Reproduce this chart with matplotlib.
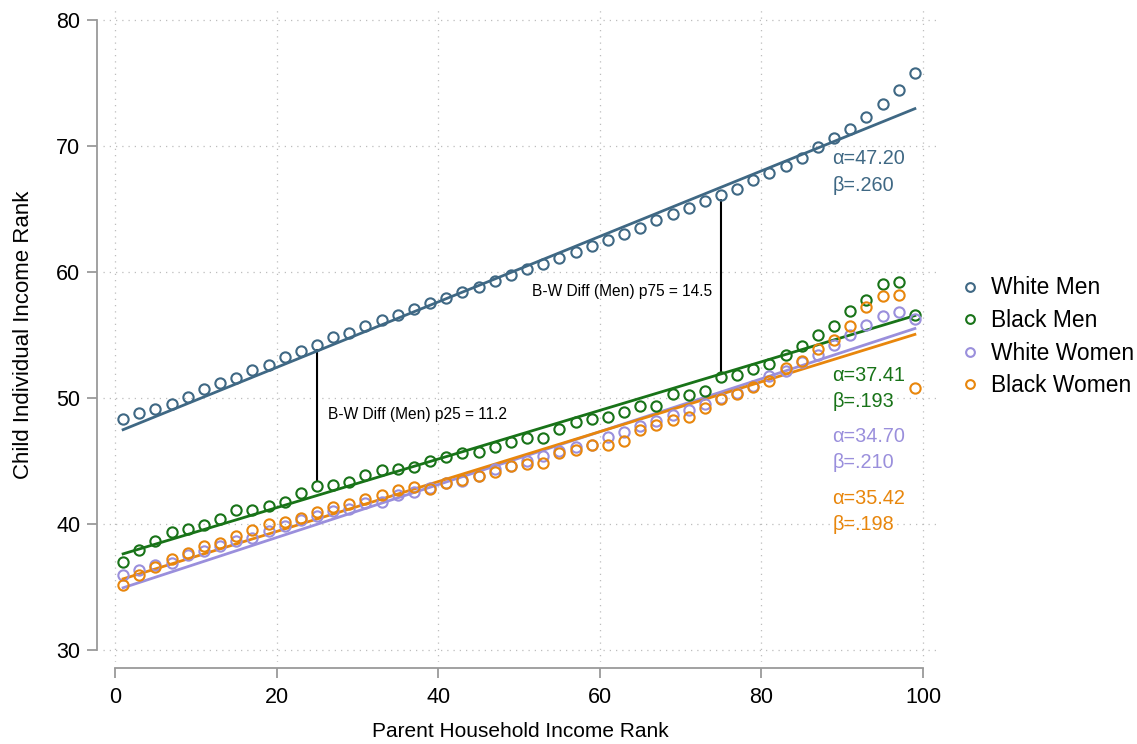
import numpy as np
import matplotlib
matplotlib.use("Agg")
import matplotlib.pyplot as plt

plt.rcParams['font.family'] = ['Liberation Sans', 'DejaVu Sans']

# parent rank bins (x) and mean child rank for each group
parent_rank = list(range(1, 100, 2))

white_men = [48.3, 48.8, 49.1, 49.5, 50.06, 50.7, 51.2, 51.6, 52.2, 52.6, 53.2, 53.7,
             54.2, 54.8, 55.1, 55.7, 56.2, 56.55, 57.0, 57.55, 57.9, 58.4, 58.8,
             59.3, 59.7, 60.2, 60.6, 61.1, 61.6, 62.05, 62.5, 63.0, 63.5, 64.1, 64.6,
             65.05, 65.6, 66.1, 66.6, 67.3, 67.85, 68.4, 69.0, 69.9, 70.6, 71.3, 72.3,
             73.3, 74.4, 75.8]
black_men = [36.94, 37.9, 38.65, 39.35, 39.6, 39.9, 40.4, 41.06, 41.1, 41.4,
             41.7, 42.45, 43.0, 43.1, 43.3, 43.9, 44.25, 44.3, 44.5, 45.0,
             45.3, 45.6, 45.7, 46.06, 46.5, 46.8, 46.77, 47.5, 48.04, 48.3,
             48.43, 48.87, 49.3, 49.3, 50.27, 50.19, 50.53, 51.66, 51.8, 52.3,
             52.7, 53.4, 54.1, 55.0, 55.7, 56.9, 57.76, 59.0, 59.2, 56.6]
white_women = [35.94, 36.3, 36.7, 36.9, 37.5, 37.8, 38.26, 38.6, 38.9, 39.4, 39.8, 40.3,
               40.62, 40.99, 41.2, 41.67, 41.72, 42.25, 42.5, 42.8, 43.25, 43.4, 43.8,
               44.35, 44.6, 45.0, 45.4, 45.8, 46.06, 46.25, 46.85, 47.25, 47.77, 48.16, 48.6,
               49.03, 49.48, 50.0, 50.4, 50.9, 51.7, 52.1, 52.8, 53.4, 54.2, 55.0, 55.8,
               56.5, 56.84, 56.24]
black_women = [35.1, 35.94, 36.55, 37.2, 37.7, 38.2, 38.5, 39.0, 39.5, 39.96, 40.15, 40.46,
               40.94, 41.33, 41.6, 41.96, 42.3, 42.67, 42.93, 42.78, 43.25, 43.5, 43.78,
               44.14, 44.6, 44.75, 44.83, 45.6, 45.85, 46.25, 46.25, 46.6, 47.4, 47.8, 48.2,
               48.5, 49.2, 49.87, 50.27, 50.87, 51.3, 52.37, 52.95, 53.87, 54.55, 55.65, 57.18,
               58.08, 58.15, 50.74]

group_names = ['White Men', 'Black Men', 'White Women', 'Black Women']
group_values = [white_men, black_men, white_women, black_women]
alphas = [47.20, 37.41, 34.70, 35.42]
betas = [0.260, 0.193, 0.210, 0.198]
alpha_labels = ['47.20', '37.41', '34.70', '35.42']
beta_labels = ['.260', '.193', '.210', '.198']
colors = ['#3f6884', '#187318', '#9a8fdc', '#e8860c']

# where the alpha/beta text sits (data coords)
coef_x = 88.8
coef_y = [68.95, 51.8, 46.95, 42.0]

# black-white gap annotations for men
gap_ranks = [25, 75]
gap_labels = ['B-W Diff (Men) p25 = 11.2', 'B-W Diff (Men) p75 = 14.5']
gap_text_pos = [(26.3, 48.7), (51.6, 58.4)]

fig = plt.figure(figsize=(11.37, 7.44), dpi=100)
ax = fig.add_axes([103 / 1137, 1 - 662 / 744, (938 - 103) / 1137, (662 - 8) / 744])

x = np.array(parent_rank)
ms = 7.4
for name, vals, a, b, col in zip(group_names, group_values, alphas, betas, colors):
    ax.plot(x, vals, 'o', ms=ms, mfc='none', mec=col, mew=1.5, label=name, zorder=3)
    ax.plot([x[0], x[-1]], [a + b * x[0], a + b * x[-1]], '-', color=col, lw=2.0, zorder=2)

for i, (name, col) in enumerate(zip(group_names, colors)):
    ax.text(coef_x, coef_y[i], '\u03b1=' + alpha_labels[i], color=col, fontsize=14.3,
            ha='left', va='center')
    ax.text(coef_x, coef_y[i] - 2.1, '\u03b2=' + beta_labels[i], color=col, fontsize=14.3,
            ha='left', va='center')

for r, lab, pos in zip(gap_ranks, gap_labels, gap_text_pos):
    k = parent_rank.index(r)
    ax.annotate('', xy=(r, white_men[k]), xytext=(r, black_men[k]),
                arrowprops=dict(arrowstyle='-', color='black', lw=1.5,
                                shrinkA=ms / 2, shrinkB=ms / 2), zorder=1)
    ax.text(pos[0], pos[1], lab, fontsize=11.2, ha='left', va='center')

ax.set_xlim(-1.49, 101.86)
ax.set_ylim(29.02, 80.93)
ax.set_xticks([0, 20, 40, 60, 80, 100])
ax.set_yticks([30, 40, 50, 60, 70, 80])
ax.tick_params(axis='both', labelsize=15.5, colors='#9a9a9a', labelcolor='black',
               length=7, width=1.3)
ax.tick_params(axis='x', pad=7)
ax.tick_params(axis='y', pad=5)

for s in ['top', 'right']:
    ax.spines[s].set_visible(False)
ax.spines['left'].set_position(('outward', 4.3))
ax.spines['bottom'].set_position(('outward', 4.3))
ax.spines['left'].set_bounds(30, 80)
ax.spines['bottom'].set_bounds(0, 100)
for s in ['left', 'bottom']:
    ax.spines[s].set_color('#9a9a9a')
    ax.spines[s].set_linewidth(1.3)

ax.grid(True, linestyle=(0, (1, 4)), color='#bdbdbd', lw=0.9)
ax.set_axisbelow(True)

ax.set_xlabel('Parent Household Income Rank', fontsize=15, labelpad=10)
ax.set_ylabel('Child Individual Income Rank', fontsize=16, labelpad=16)

handles, labels = ax.get_legend_handles_labels()
leg = fig.legend(handles, labels, loc='upper left', bbox_to_anchor=(936 / 1137, 1 - 256 / 744),
                 frameon=False, fontsize=16.4, markerscale=0.85, handletextpad=0.3,
                 handlelength=1.2, labelspacing=0.42)

fig.savefig('out.png', dpi=100)
